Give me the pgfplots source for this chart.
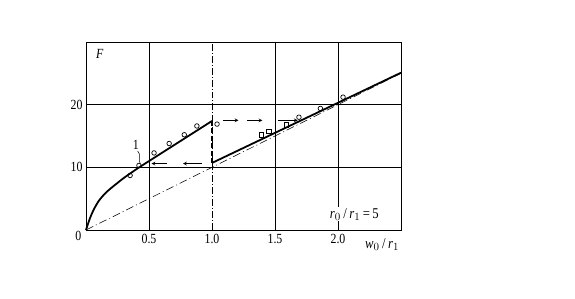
\documentclass[border=0pt]{standalone}
\usepackage{fontspec}
\setmainfont{Liberation Serif}[FakeStretch=0.85]
\usepackage{pgfplots}
\pgfplotsset{compat=1.18}
\begin{document}
\begin{tikzpicture}[x=1bp,y=1bp]
\begin{axis}[
  name=ax,
  scale only axis,
  width=315bp, height=188bp,
  xmin=0, xmax=2.5, ymin=0, ymax=30,
  axis line style={line width=0.9pt},
  xtick={0.5,1.5,2},
  xticklabels={0.5,1.5,2.0},
  extra x ticks={1},
  extra x tick labels={1.0},
  extra x tick style={grid style={black, line width=0.7pt, dash pattern=on 7pt off 2pt on 1pt off 2pt}},
  ytick={10,20},
  yticklabels={10,20},
  grid=major,
  grid style={black, line width=0.7pt},
  major tick length=0pt,
  tick label style={font=\fontsize{14}{15}\selectfont},
  /pgf/number format/assume math mode=true,
  xticklabel style={yshift=-1bp},
  clip=false,
]
% dash-dot reference line
\addplot[black, line width=0.55pt, dash pattern=on 8pt off 3pt on 1pt off 3pt] coordinates {(0,0) (2.5,25)};
% upper branch
\addplot[black, line width=1.8pt, smooth, tension=0.5] coordinates {
(0,0) (0.03,1.8) (0.06,3.2) (0.1,4.6) (0.15,5.8) (0.2,6.7) (0.3,8.3) (0.4,9.7) (0.5,11.0)};
\addplot[black, line width=1.8pt] coordinates {(0.5,11.0) (1.0,17.4)};
% jump
\addplot[black, line width=2.2pt, dash pattern=on 5pt off 2.5pt] coordinates {(1.0,17.4) (1.0,10.7)};
% lower branch
\addplot[black, line width=1.8pt] coordinates {(1.0,10.7) (2.5,25.1)};
% arrows right
\addplot[black, line width=0.7pt, -stealth] coordinates {(1.09,17.5) (1.21,17.5)};
\addplot[black, line width=0.7pt, -stealth] coordinates {(1.28,17.5) (1.40,17.5)};
\addplot[black, line width=0.7pt, -stealth] coordinates {(1.52,17.5) (1.68,17.5)};
% arrows left
\addplot[black, line width=0.7pt, -stealth] coordinates {(0.64,10.6) (0.52,10.6)};
\addplot[black, line width=0.7pt, -stealth] coordinates {(0.92,10.6) (0.77,10.6)};
% circles
\addplot[only marks, mark=o, mark size=2.3pt, mark options={line width=0.7pt}] coordinates {
(0.35,8.7) (0.42,10.3) (0.54,12.3) (0.66,13.8) (0.78,15.2) (0.88,16.6) (1.04,16.9)
(1.69,18.0) (1.86,19.4) (2.04,21.2)};
% squares
\addplot[only marks, mark=square, mark size=2.2pt, mark options={line width=0.7pt}] coordinates {
(1.39,15.2) (1.45,15.7) (1.59,16.8)};
% labels
\node[font=\itshape\fontsize{14}{15}\selectfont] at (axis cs:0.11,28.1) {F};
\node[font=\fontsize{14}{15}\selectfont] at (axis cs:-0.06,-0.9) {0};
\node[font=\fontsize{14}{15}\selectfont] at (axis cs:0.395,13.6) {1};
\draw[black, line width=0.5pt] (axis cs:0.41,12.6) .. controls (axis cs:0.44,12.1) and (axis cs:0.41,11.2) .. (axis cs:0.43,10.6);
\node[fill=white, inner sep=1bp, font=\fontsize{15}{16}\selectfont] at (axis cs:2.13,2.5) {\textit{r}$_0$\,/\,\textit{r}$_1$\,=\,5};
\node[font=\fontsize{15}{16}\selectfont] at (axis cs:2.35,-2.3) {\textit{w}$_0$\,/\,\textit{r}$_1$};
\end{axis}
\useasboundingbox (ax.south west) ++(-86bp,-69bp) rectangle ++(575bp,299bp);
\end{tikzpicture}
\end{document}
